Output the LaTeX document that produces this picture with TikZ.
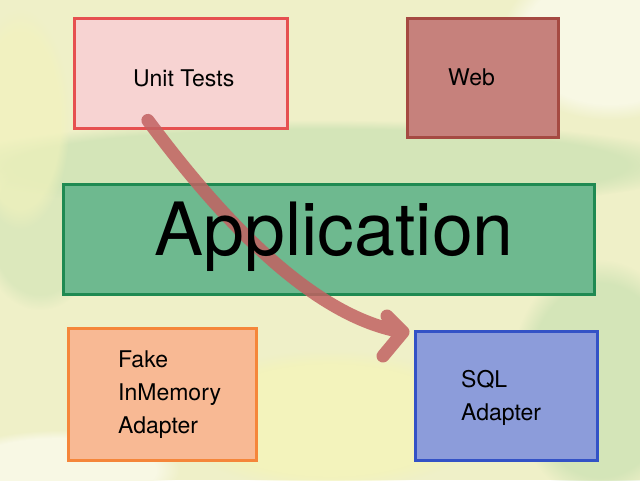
\documentclass[tikz,border=0pt]{standalone}
\usepackage{fontspec}
\setmainfont{TeX Gyre Heros}
\usetikzlibrary{fadings}
\definecolor{bgbase}{HTML}{EFF0C8}
\definecolor{bggreen}{HTML}{D4E5B8}
\definecolor{bglight}{HTML}{F8F8E4}
\definecolor{bgyellow}{HTML}{F3F3BC}
\definecolor{utfill}{HTML}{F7D3D2}
\definecolor{utdraw}{HTML}{E65050}
\definecolor{webfill}{HTML}{C6817C}
\definecolor{webdraw}{HTML}{A54A42}
\definecolor{appfill}{HTML}{6EB98F}
\definecolor{appdraw}{HTML}{1F8A52}
\definecolor{fakefill}{HTML}{F8B994}
\definecolor{fakedraw}{HTML}{F5863A}
\definecolor{sqlfill}{HTML}{8C9CDA}
\definecolor{sqldraw}{HTML}{3352C6}
\definecolor{arrowred}{RGB}{194,98,98}
\begin{document}
\begin{tikzpicture}[x=1pt,y=-1pt,
  box/.style={draw, line width=2.8pt, inner sep=0pt, anchor=north west},
  lbl/.style={inner sep=0pt, font=\fontsize{23}{33}\selectfont},
  blob/.style={path fading=circle with fuzzy edge 20 percent}]
\useasboundingbox (0,0) rectangle (640,480);
% background wash
\fill[bgbase] (0,0) rectangle (640,480);
\fill[bggreen, blob] (320,165) ellipse [x radius=380, y radius=45];
\fill[bggreen, blob] (600,380) ellipse [x radius=90, y radius=120];
\fill[bggreen, blob, opacity=0.7] (40,230) ellipse [x radius=60, y radius=80];
\fill[bgyellow, blob] (330,420) ellipse [x radius=160, y radius=70];
\fill[bglight, blob] (610,40) ellipse [x radius=110, y radius=80];
\fill[bglight, blob] (60,470) ellipse [x radius=120, y radius=40];
\fill[bgyellow, blob, opacity=0.6] (20,120) ellipse [x radius=50, y radius=110];
% boxes
\node[box, fill=utfill, draw=utdraw, minimum width=213pt, minimum height=110pt] (unit) at (73,17) {};
\node[box, fill=webfill, draw=webdraw, minimum width=151pt, minimum height=119pt] (web) at (406,17) {};
\node[box, fill=appfill, draw=appdraw, minimum width=531pt, minimum height=110pt] (app) at (62,183) {};
\node[box, fill=fakefill, draw=fakedraw, minimum width=188pt, minimum height=132pt] (fake) at (67,327) {};
\node[box, fill=sqlfill, draw=sqldraw, minimum width=182pt, minimum height=129pt] (sql) at (414,330) {};
% connector
\coordinate (start) at ([shift={(-33,47)}]unit.center);
\coordinate (tip) at ([shift={(-11,2)}]sql.north west);
\coordinate (armA) at ([shift={(-16,-16)}]tip);
\coordinate (armB) at ([shift={(-20,24)}]tip);
\draw[arrowred, opacity=0.85, line width=13pt, line cap=round, line join=round]
  (start) .. controls (200,190) and (300,315) .. (tip)
  (armA) -- (tip) -- (armB);
% labels
\node[lbl, anchor=base] (unitT) at (183.7,86) {Unit Tests};
\node[lbl, anchor=base] (webT) at (471.5,85) {Web};
\node[inner sep=0pt, font=\fontsize{73.5}{80}\selectfont, anchor=base] (appT) at (334,255) {Application};
\node[lbl, align=left, anchor=north west] (fakeT) at (118,350.5) {Fake\\InMemory\\Adapter};
\node[lbl, align=left, anchor=north west] (sqlT) at (461,370.5) {SQL\\Adapter};
\end{tikzpicture}
\end{document}
